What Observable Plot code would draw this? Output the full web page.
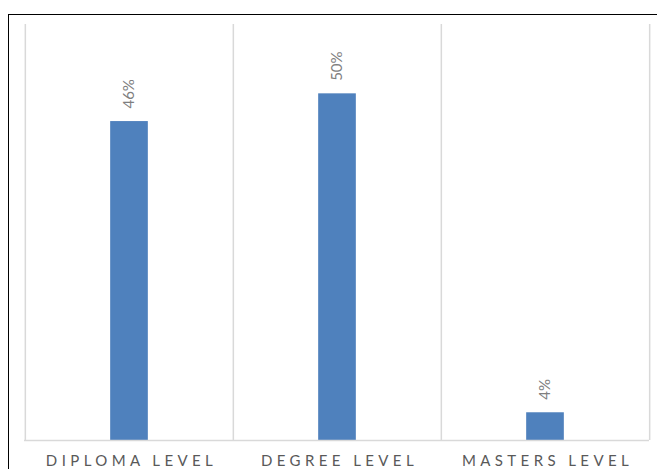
<!DOCTYPE html>
<html>
<head>
<meta charset="utf-8">
<script src="https://cdn.jsdelivr.net/npm/d3@7"></script>
<script src="https://cdn.jsdelivr.net/npm/@observablehq/plot@0.6"></script>
<style>
  html, body { margin: 0; padding: 0; background: #fff; }
  #wrap { position: relative; width: 657px; height: 469px; overflow: hidden; }
  #frame { position: absolute; left: 8px; top: 14px; width: 700px; height: 500px; border-left: 1px solid #000; border-top: 1px solid #000; box-sizing: border-box; pointer-events: none; }
  #wrap svg [aria-label="x-axis tick label"] text { letter-spacing: 4.4px; }
</style>
</head>
<body>
<div id="wrap"><div id="frame"></div></div>
<script>
const categories = ["DIPLOMA LEVEL", "DEGREE LEVEL", "MASTERS LEVEL"];
const values = [46, 50, 4];
const valueLabels = ["46%", "50%", "4%"];

const data = categories.map((c, i) => ({category: c, value: values[i], label: valueLabels[i]}));

const W = 657, H = 469, mL = 24, mR = 8, mT = 24, mB = 29;
const bw = (W - mL - mR) / categories.length;

const chart = Plot.plot({
  width: W,
  height: H,
  marginLeft: mL,
  marginRight: mR,
  marginTop: mT,
  marginBottom: mB,
  style: {fontFamily: "Lato, 'Open Sans', sans-serif", background: "transparent"},
  x: {domain: categories, padding: 0, label: null},
  y: {domain: [0, 60], axis: null},
  marks: [
    Plot.ruleX(categories, {x: d => d, dx: -bw / 2, stroke: "#d9d9d9", strokeWidth: 1.5}),
    Plot.ruleX([categories[categories.length - 1]], {x: d => d, dx: bw / 2, stroke: "#d9d9d9", strokeWidth: 1.5}),
    Plot.barY(data, {x: "category", y: "value", fill: "#4f81bd", insetLeft: (bw - 38) / 2, insetRight: (bw - 38) / 2}),
    Plot.ruleY([0], {stroke: "#d9d9d9", strokeWidth: 1.5}),
    Plot.text(data, {x: "category", y: "value", text: "label", rotate: -90, textAnchor: "start", dy: -13, fill: "#7f7f7f", fontSize: 15}),
    Plot.axisX({tickSize: 0, tickPadding: 15, fontSize: 15, color: "#595959", label: null, dx: 2})
  ]
});
document.getElementById("wrap").prepend(chart);
</script>
</body>
</html>
